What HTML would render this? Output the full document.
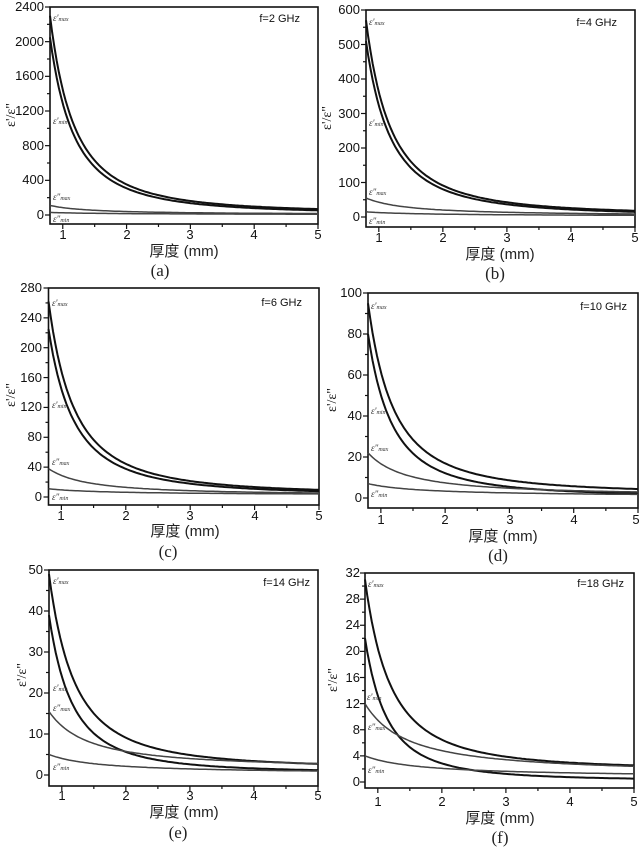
<!DOCTYPE html>
<html><head><meta charset="utf-8"><style>
html,body{margin:0;padding:0;background:#fff;}
svg{display:block}
.t{font-family:"Liberation Sans",Arial,sans-serif;font-size:13px;fill:#111}
.ty{text-anchor:end}
.tx{text-anchor:middle}
.ax{font-family:"Liberation Sans","Noto Sans CJK SC",sans-serif;font-size:15px;fill:#222;text-anchor:middle}
.pl{font-family:"Liberation Serif","Noto Serif CJK SC",serif;font-size:17px;fill:#222;text-anchor:middle}
.f{font-family:"Liberation Sans",sans-serif;font-size:11px;fill:#111;text-anchor:end}
.e{font-family:"Liberation Serif",serif;font-style:italic;font-size:9px;fill:#333}
.e tspan.s{font-size:6px}
.yt{font-family:"Liberation Serif",serif;font-size:14px;fill:#111;text-anchor:middle}
</style></head><body>
<svg id="s" width="643" height="851" viewBox="0 0 643 851" xmlns="http://www.w3.org/2000/svg">
<g id="g"></g>
<!-- (a) -->
<g class="t ty"><text x="44" y="219">0</text><text x="44" y="184">400</text><text x="44" y="150">800</text><text x="44" y="115">1200</text><text x="44" y="80">1600</text><text x="44" y="46">2000</text><text x="44" y="11">2400</text></g>
<g class="t tx"><text x="63" y="239">1</text><text x="127" y="239">2</text><text x="190" y="239">3</text><text x="254" y="239">4</text><text x="318" y="239">5</text></g>
<text class="ax" x="184" y="256">厚度 (mm)</text><text class="pl" x="160" y="276">(a)</text>
<text class="f" x="300" y="22">f=2 GHz</text>
<text class="yt" transform="translate(15,115) rotate(-90)">ε'/ε"</text>
<text class="e" x="53" y="21">ε'<tspan class="s">max</tspan></text><text class="e" x="53" y="124">ε'<tspan class="s">min</tspan></text><text class="e" x="53" y="200">ε"<tspan class="s">max</tspan></text><text class="e" x="53" y="222">ε"<tspan class="s">min</tspan></text>
<!-- (b) -->
<g class="t ty"><text x="360" y="221">0</text><text x="360" y="187">100</text><text x="360" y="152">200</text><text x="360" y="118">300</text><text x="360" y="83">400</text><text x="360" y="49">500</text><text x="360" y="14">600</text></g>
<g class="t tx"><text x="379" y="242">1</text><text x="443" y="242">2</text><text x="507" y="242">3</text><text x="571" y="242">4</text><text x="635" y="242">5</text></g>
<text class="ax" x="500" y="259">厚度 (mm)</text><text class="pl" x="495" y="279">(b)</text>
<text class="f" x="617" y="26">f=4 GHz</text>
<text class="yt" transform="translate(331,118) rotate(-90)">ε'/ε"</text>
<text class="e" x="369" y="25">ε'<tspan class="s">max</tspan></text><text class="e" x="369" y="126">ε'<tspan class="s">min</tspan></text><text class="e" x="369" y="195">ε"<tspan class="s">max</tspan></text><text class="e" x="369" y="224">ε"<tspan class="s">min</tspan></text>
<!-- (c) -->
<g class="t ty"><text x="42" y="501">0</text><text x="42" y="471">40</text><text x="42" y="441">80</text><text x="42" y="411">120</text><text x="42" y="382">160</text><text x="42" y="352">200</text><text x="42" y="322">240</text><text x="42" y="292">280</text></g>
<g class="t tx"><text x="61" y="520">1</text><text x="126" y="520">2</text><text x="190" y="520">3</text><text x="255" y="520">4</text><text x="319" y="520">5</text></g>
<text class="ax" x="185" y="536">厚度 (mm)</text><text class="pl" x="168" y="557">(c)</text>
<text class="f" x="302" y="306">f=6 GHz</text>
<text class="yt" transform="translate(15,395) rotate(-90)">ε'/ε"</text>
<text class="e" x="52" y="306">ε'<tspan class="s">max</tspan></text><text class="e" x="52" y="408">ε'<tspan class="s">min</tspan></text><text class="e" x="52" y="465">ε"<tspan class="s">max</tspan></text><text class="e" x="52" y="500">ε"<tspan class="s">min</tspan></text>
<!-- (d) -->
<g class="t ty"><text x="362" y="502">0</text><text x="362" y="461">20</text><text x="362" y="420">40</text><text x="362" y="379">60</text><text x="362" y="338">80</text><text x="362" y="297">100</text></g>
<g class="t tx"><text x="381" y="524">1</text><text x="445" y="524">2</text><text x="510" y="524">3</text><text x="574" y="524">4</text><text x="636" y="524">5</text></g>
<text class="ax" x="503" y="541">厚度 (mm)</text><text class="pl" x="498" y="561">(d)</text>
<text class="f" x="627" y="310">f=10 GHz</text>
<text class="yt" transform="translate(336,400) rotate(-90)">ε'/ε"</text>
<text class="e" x="371" y="309">ε'<tspan class="s">max</tspan></text><text class="e" x="371" y="414">ε'<tspan class="s">min</tspan></text><text class="e" x="371" y="451">ε"<tspan class="s">max</tspan></text><text class="e" x="371" y="497">ε"<tspan class="s">min</tspan></text>
<!-- (e) -->
<g class="t ty"><text x="43" y="779">0</text><text x="43" y="738">10</text><text x="43" y="697">20</text><text x="43" y="656">30</text><text x="43" y="615">40</text><text x="43" y="574">50</text></g>
<g class="t tx"><text x="62" y="800">1</text><text x="126" y="800">2</text><text x="190" y="800">3</text><text x="254" y="800">4</text><text x="318" y="800">5</text></g>
<text class="ax" x="184" y="817">厚度 (mm)</text><text class="pl" x="178" y="838">(e)</text>
<text class="f" x="310" y="586">f=14 GHz</text>
<text class="yt" transform="translate(26,675) rotate(-90)">ε'/ε"</text>
<text class="e" x="53" y="584">ε'<tspan class="s">max</tspan></text><text class="e" x="53" y="691">ε'<tspan class="s">min</tspan></text><text class="e" x="53" y="711">ε"<tspan class="s">max</tspan></text><text class="e" x="53" y="770">ε"<tspan class="s">min</tspan></text>
<!-- (f) -->
<g class="t ty"><text x="360" y="786">0</text><text x="360" y="760">4</text><text x="360" y="734">8</text><text x="360" y="708">12</text><text x="360" y="682">16</text><text x="360" y="655">20</text><text x="360" y="629">24</text><text x="360" y="603">28</text><text x="360" y="577">32</text></g>
<g class="t tx"><text x="378" y="806">1</text><text x="442" y="806">2</text><text x="506" y="806">3</text><text x="570" y="806">4</text><text x="634" y="806">5</text></g>
<text class="ax" x="500" y="823">厚度 (mm)</text><text class="pl" x="500" y="843">(f)</text>
<text class="f" x="624" y="587">f=18 GHz</text>
<text class="yt" transform="translate(337,680) rotate(-90)">ε'/ε"</text>
<text class="e" x="368" y="587">ε'<tspan class="s">max</tspan></text><text class="e" x="367" y="700">ε'<tspan class="s">min</tspan></text><text class="e" x="368" y="730">ε"<tspan class="s">max</tspan></text><text class="e" x="368" y="773">ε"<tspan class="s">min</tspan></text>
</svg>
<script>
var P=[
 {l:50,r:318,t:7,b:224,y0:215,yv:7,vm:2400,st:400,c:[[2300,20,2.1,1],[2050,10,2.1,1],[110,5,1.2,0],[30,3,0.8,0]]},
 {l:366,r:635,t:10,b:227,y0:217,yv:10,vm:600,st:100,c:[[570,5,2.05,1],[510,3,2.05,1],[55,3,1.2,0],[15,2,0.8,0]]},
 {l:48.5,r:319,t:288,b:505,y0:497,yv:288,vm:280,st:40,c:[[262,3,2,1],[225,2,2,1],[38,2,1.3,0],[11,2,0.8,0]]},
 {l:368,r:638,t:293,b:508,y0:498,yv:293,vm:100,st:20,c:[[95,2,2,1],[80,0.5,2.1,1],[22,1,1.3,0],[7,0.5,0.9,0]]},
 {l:49,r:318,t:570,b:786,y0:775,yv:570,vm:50,st:10,c:[[49,1.5,2,1],[39,0.5,2.2,1],[15.5,1.5,1.3,0],[5,0.2,1.0,0]]},
 {l:365,r:634,t:573,b:788,y0:782,yv:573,vm:32,st:4,c:[[31,1.8,2,1],[22,0.2,2.3,1],[12,1.2,1.2,0],[4,0.6,0.9,0]]}
];
var h='';
P.forEach(function(p){
 var k=(p.r-p.l)/4.2;
 function X(d){return p.l+(d-0.8)*k;}
 function Y(v){return p.y0-(p.y0-p.yv)*v/p.vm;}
 h+='<rect x="'+p.l+'" y="'+p.t+'" width="'+(p.r-p.l)+'" height="'+(p.b-p.t)+'" fill="none" stroke="#111" stroke-width="1.6"/>';
 for(var d=1;d<=5.01;d+=0.5){var x=X(d),L=(Math.abs(d-Math.round(d))<0.01)?5:3;h+='<line x1="'+x+'" y1="'+p.b+'" x2="'+x+'" y2="'+(p.b+L)+'" stroke="#111" stroke-width="1.2"/>';}
 for(var v=0;v<=p.vm+0.001;v+=p.st/2){var y=Y(v),L=(Math.abs(v/p.st-Math.round(v/p.st))<0.01)?5:3;h+='<line x1="'+(p.l-L)+'" y1="'+y+'" x2="'+p.l+'" y2="'+y+'" stroke="#111" stroke-width="1.2"/>';}
 p.c.forEach(function(c){
  var s='';for(var i=0;i<=120;i++){var d=0.8+4.2*i/120;var v=c[1]+(c[0]-c[1])*Math.pow(0.8/d,c[2]);s+=(i?'L':'M')+X(d).toFixed(1)+','+Y(v).toFixed(1);}
  h+='<path d="'+s+'" fill="none" stroke="'+(c[3]?'#111':'#444')+'" stroke-width="'+(c[3]?2:1.5)+'"/>';
 });
});
document.getElementById('g').innerHTML=h;
</script>
</body></html>
